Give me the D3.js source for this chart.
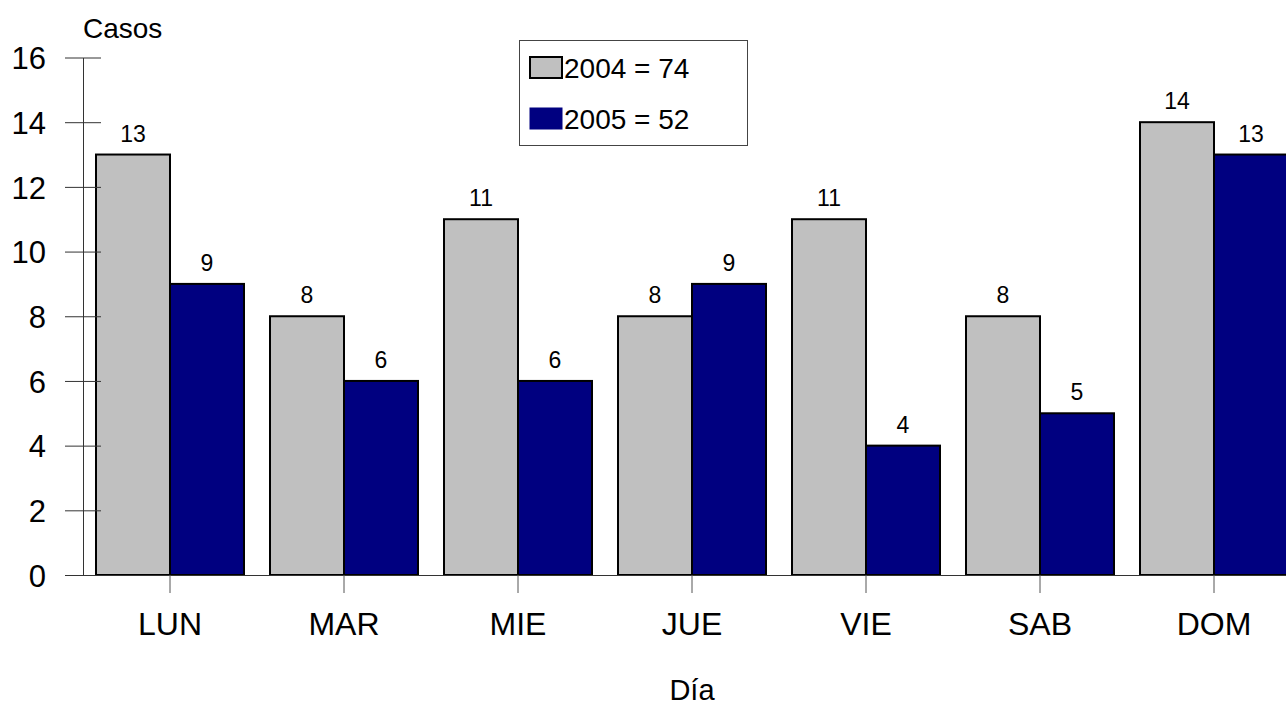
<!DOCTYPE html>
<html>
<head>
<meta charset="utf-8">
<script src="https://cdn.jsdelivr.net/npm/d3@7"></script>
<style>
  html, body { margin: 0; padding: 0; background: #fff; }
  svg { display: block; font-family: "Liberation Sans", Arial, sans-serif; }
</style>
</head>
<body>
<svg id="chart" width="1286" height="706"></svg>
<script>
const categories = ["LUN", "MAR", "MIE", "JUE", "VIE", "SAB", "DOM"];
const seriesNames = ["2004", "2005"];
const values2004 = [13, 8, 11, 8, 11, 8, 14];
const values2005 = [9, 6, 6, 9, 4, 5, 13];
const legendLabels = ["2004 = 74", "2005 = 52"];
const colors = ["#c0c0c0", "#000080"];
const yTicks = [0, 2, 4, 6, 8, 10, 12, 14, 16];

const svg = d3.select("#chart");
const axisX = 83, x0Right = 1301, yTop = 57.5, yBottom = 575;

const x = d3.scaleBand().domain(categories).range([axisX, x0Right]).paddingInner(0).paddingOuter(0);
const bw = x.bandwidth();
const pad = 13;
const x1 = d3.scaleBand().domain(seriesNames).range([pad, bw - pad]).padding(0);
const y = d3.scaleLinear().domain([0, 16]).range([yBottom, yTop]);

const series = [values2004, values2005];

// bars
series.forEach((vals, si) => {
  svg.append("g").selectAll("rect").data(categories).join("rect")
    .attr("x", (c) => x(c) + x1(seriesNames[si]))
    .attr("y", (c, i) => y(vals[i]))
    .attr("width", x1.bandwidth())
    .attr("height", (c, i) => y(0) - y(vals[i]))
    .attr("fill", colors[si])
    .attr("stroke", "#000")
    .attr("stroke-width", 2);
});

// value labels
series.forEach((vals, si) => {
  svg.append("g").selectAll("text").data(categories).join("text")
    .attr("x", (c) => x(c) + x1(seriesNames[si]) + x1.bandwidth() / 2)
    .attr("y", (c, i) => y(vals[i]) - 13)
    .attr("text-anchor", "middle")
    .attr("font-size", 23)
    .attr("fill", "#000")
    .text((c, i) => vals[i]);
});

// y axis
const yAxis = d3.axisLeft(y).tickValues(yTicks).tickSizeInner(0).tickSizeOuter(0).tickPadding(0);
const gy = svg.append("g").attr("transform", `translate(${axisX},0)`).call(yAxis);
gy.select(".domain").attr("stroke", "#333").attr("stroke-width", 1);
gy.selectAll(".tick line").remove();
gy.selectAll(".tick").append("line")
  .attr("x1", -18).attr("x2", 18).attr("y1", 0).attr("y2", 0)
  .attr("stroke", "#333").attr("stroke-width", 1);
gy.selectAll(".tick text")
  .attr("x", -37).attr("dy", "0.36em")
  .attr("font-size", 31).attr("font-family", "Liberation Sans, Arial, sans-serif").attr("fill", "#000");

// x axis
const xAxis = d3.axisBottom(x).tickSizeInner(18).tickSizeOuter(0).tickPadding(0);
const gx = svg.append("g").attr("transform", `translate(0,${yBottom})`).call(xAxis);
gx.select(".domain").attr("d", `M${axisX - 18},0.5H1300`).attr("stroke", "#333").attr("stroke-width", 1);
gx.selectAll(".tick line").attr("stroke", "#555").attr("stroke-width", 1);
gx.selectAll(".tick text")
  .attr("y", 60).attr("dy", 0)
  .attr("font-size", 32).attr("font-family", "Liberation Sans, Arial, sans-serif").attr("fill", "#000");

// axis titles
svg.append("text").attr("x", axisX).attr("y", 38)
  .attr("font-size", 28).attr("fill", "#000").text("Casos");
svg.append("text").attr("x", (axisX + x0Right) / 2).attr("y", 700)
  .attr("text-anchor", "middle").attr("font-size", 29).attr("fill", "#000").text("Día");

// legend
const lg = svg.append("g");
lg.append("rect").attr("x", 519.5).attr("y", 40.5).attr("width", 228).attr("height", 105)
  .attr("fill", "#fff").attr("stroke", "#444").attr("stroke-width", 1);
legendLabels.forEach((lab, i) => {
  const yy = 57 + i * 51;
  lg.append("rect").attr("x", 530).attr("y", yy).attr("width", 32).attr("height", 21)
    .attr("fill", colors[i]).attr("stroke", i === 0 ? "#000" : colors[i]).attr("stroke-width", i === 0 ? 2 : 1);
  lg.append("text").attr("x", 564).attr("y", yy + 20.5)
    .attr("font-size", 28).attr("fill", "#000").text(lab);
});
</script>
</body>
</html>
